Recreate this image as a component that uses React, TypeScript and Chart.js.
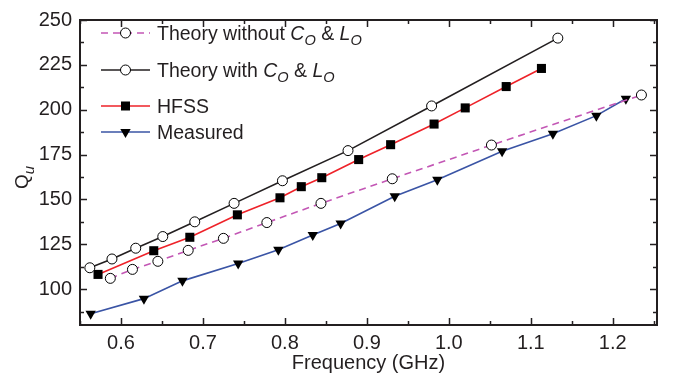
import React, { useEffect, useRef } from "react";
import { Chart, registerables } from "chart.js";

Chart.register(...registerables);

// ---------- data ----------
const theoryWithoutX = [0.587, 0.614, 0.645, 0.682, 0.725, 0.778, 0.844, 0.931, 1.052, 1.235];
const theoryWithoutY = [106.0, 111.0, 115.5, 121.6, 128.3, 137.1, 147.8, 161.5, 180.3, 208.2];

const theoryWithX = [0.562, 0.589, 0.618, 0.651, 0.69, 0.738, 0.797, 0.877, 0.979, 1.133];
const theoryWithY = [111.9, 116.8, 122.8, 129.3, 137.5, 147.8, 160.4, 177.2, 202.1, 239.9];

const hfssX = [0.572, 0.64, 0.684, 0.742, 0.794, 0.82, 0.845, 0.89, 0.929, 0.982, 1.02, 1.07, 1.113];
const hfssY = [108.2, 121.4, 128.9, 141.4, 150.9, 157.1, 162.1, 172.2, 180.5, 192.0, 201.0, 212.9, 223.0];

const measuredX = [0.563, 0.628, 0.675, 0.743, 0.792, 0.834, 0.868, 0.934, 0.986, 1.065, 1.127, 1.18, 1.216];
const measuredY = [86.3, 94.7, 104.6, 114.3, 122.0, 130.2, 136.6, 151.8, 161.0, 176.9, 186.6, 196.7, 206.1];

const xMajorTicks = [0.6, 0.7, 0.8, 0.9, 1.0, 1.1, 1.2];
const xMinorTicks = [0.55, 0.65, 0.75, 0.85, 0.95, 1.05, 1.15, 1.25];
const yMajorTicks = [100, 125, 150, 175, 200, 225, 250];
const yMinorTicks = [87.5, 112.5, 137.5, 162.5, 187.5, 212.5, 237.5];

const xTitle = "Frequency (GHz)";

type Part = { t: string; italic?: boolean; sub?: boolean };
const legendLabels: Part[][] = [
  [{ t: "Theory without " }, { t: "C", italic: true }, { t: "O", italic: true, sub: true }, { t: " & " }, { t: "L", italic: true }, { t: "O", italic: true, sub: true }],
  [{ t: "Theory with " }, { t: "C", italic: true }, { t: "O", italic: true, sub: true }, { t: " & " }, { t: "L", italic: true }, { t: "O", italic: true, sub: true }],
  [{ t: "HFSS" }],
  [{ t: "Measured" }],
];

// ---------- styles ----------
const FONT = '"Liberation Sans", Arial, Helvetica, sans-serif';
const TEXT = "#231f20";
const FRAME = "#231f20";
const PURPLE = "#c357b5";
const BLACK = "#231f20";
const RED = "#ee2229";
const BLUE = "#3a54a5";

const zip = (xs: number[], ys: number[]) => xs.map((x, i) => ({ x, y: ys[i] }));

function drawMarker(ctx: CanvasRenderingContext2D, style: string, x: number, y: number) {
  ctx.save();
  ctx.lineWidth = 1;
  ctx.strokeStyle = "#000";
  if (style === "circle") {
    ctx.fillStyle = "#fff";
    ctx.beginPath();
    ctx.arc(x, y, 5, 0, Math.PI * 2);
    ctx.fill();
    ctx.stroke();
  } else if (style === "rect") {
    ctx.fillStyle = "#000";
    ctx.fillRect(x - 4.5, y - 4.5, 9, 9);
  } else {
    const r = 6;
    ctx.fillStyle = "#000";
    ctx.beginPath();
    ctx.moveTo(x, y + r);
    ctx.lineTo(x - r * 0.866, y - r * 0.5);
    ctx.lineTo(x + r * 0.866, y - r * 0.5);
    ctx.closePath();
    ctx.fill();
  }
  ctx.restore();
}

function drawRich(ctx: CanvasRenderingContext2D, x: number, baseline: number, parts: Part[], size: number) {
  let cx = x;
  for (const p of parts) {
    const s = p.sub ? size * 0.75 : size;
    ctx.font = `${p.italic ? "italic " : ""}${s}px ${FONT}`;
    ctx.fillText(p.t, cx, baseline + (p.sub ? size * 0.28 : 0));
    cx += ctx.measureText(p.t).width;
  }
}

const legendDefs = [
  { color: PURPLE, dash: [7, 5], marker: "circle", y: 33 },
  { color: BLACK, dash: [], marker: "circle", y: 70 },
  { color: RED, dash: [], marker: "rect", y: 106 },
  { color: BLUE, dash: [], marker: "tri", y: 132 },
];

const decorPlugin = {
  id: "decor",
  afterDatasetsDraw(chart: any) {
    const { ctx, chartArea: a, scales } = chart;
    const xs = scales.x;
    const ys = scales.y;
    ctx.save();
    ctx.strokeStyle = FRAME;
    ctx.lineWidth = 1.5;
    ctx.beginPath();
    const tx = (vals: number[], len: number) => {
      for (const v of vals) {
        const px = Math.round(xs.getPixelForValue(v)) + 0.5;
        ctx.moveTo(px, a.bottom);
        ctx.lineTo(px, a.bottom - len);
        ctx.moveTo(px, a.top);
        ctx.lineTo(px, a.top + len);
      }
    };
    const ty = (vals: number[], len: number) => {
      for (const v of vals) {
        const py = Math.round(ys.getPixelForValue(v)) + 0.5;
        ctx.moveTo(a.left, py);
        ctx.lineTo(a.left + len, py);
        ctx.moveTo(a.right, py);
        ctx.lineTo(a.right - len, py);
      }
    };
    tx(xMajorTicks, 7);
    tx(xMinorTicks, 4);
    ty(yMajorTicks, 7);
    ty(yMinorTicks, 4);
    ctx.stroke();
    ctx.lineWidth = 2;
    ctx.strokeRect(a.left, a.top, a.right - a.left, a.bottom - a.top);

    // legend
    legendDefs.forEach((d, i) => {
      ctx.save();
      ctx.strokeStyle = d.color;
      ctx.lineWidth = 1.6;
      ctx.setLineDash(d.dash);
      ctx.beginPath();
      ctx.moveTo(101, d.y);
      ctx.lineTo(150, d.y);
      ctx.stroke();
      ctx.restore();
      drawMarker(ctx, d.marker, 125.5, d.y);
      ctx.fillStyle = TEXT;
      ctx.textBaseline = "alphabetic";
      ctx.textAlign = "left";
      drawRich(ctx, 157, d.y + 7, legendLabels[i], 19.5);
    });

    // y title: Q with italic subscript u
    ctx.save();
    ctx.translate(28, 189);
    ctx.rotate(-Math.PI / 2);
    ctx.fillStyle = TEXT;
    ctx.textBaseline = "alphabetic";
    ctx.textAlign = "left";
    ctx.font = `19px ${FONT}`;
    ctx.fillText("Q", 0, 0);
    const qw = ctx.measureText("Q").width;
    ctx.font = `italic 15px ${FONT}`;
    ctx.fillText("u", qw, 6);
    ctx.restore();
    ctx.restore();
  },
};

export default function App() {
  const ref = useRef<HTMLCanvasElement>(null);
  useEffect(() => {
    if (!ref.current) return;
    const common = { borderWidth: 1.6, pointBorderWidth: 1, pointBorderColor: "#000", tension: 0 };
    const chart = new Chart(ref.current, {
      type: "line",
      data: {
        datasets: [
          { ...common, label: "Theory without", data: zip(theoryWithoutX, theoryWithoutY), borderColor: PURPLE, borderDash: [7, 5], pointStyle: "circle", pointRadius: 5, pointBackgroundColor: "#fff" },
          { ...common, label: "Theory with", data: zip(theoryWithX, theoryWithY), borderColor: BLACK, pointStyle: "circle", pointRadius: 5, pointBackgroundColor: "#fff" },
          { ...common, label: "HFSS", data: zip(hfssX, hfssY), borderColor: RED, pointStyle: "rect", pointRadius: 6.4, pointBackgroundColor: "#000", pointBorderWidth: 0 },
          { ...common, label: "Measured", data: zip(measuredX, measuredY), borderColor: BLUE, pointStyle: "triangle", pointRotation: 180, pointRadius: 6, pointBackgroundColor: "#000", pointBorderWidth: 0 },
        ] as any,
      },
      options: {
        animation: false,
        responsive: true,
        maintainAspectRatio: false,
        layout: { padding: { top: 16, right: 22, left: 0, bottom: 0 } },
        plugins: { legend: { display: false }, tooltip: { enabled: false } },
        scales: {
          x: {
            type: "linear",
            min: 0.55,
            max: 1.254,
            grid: { display: false, drawTicks: false, tickLength: 0 },
            border: { display: false },
            afterBuildTicks: (s: any) => { s.ticks = xMajorTicks.map((v) => ({ value: v })); },
            afterFit: (s: any) => { s.height = 56; },
            ticks: { color: TEXT, font: { family: FONT, size: 20 }, padding: 6, maxRotation: 0, callback: (v: any) => Number(v).toFixed(1) },
            title: { display: true, text: xTitle, color: TEXT, font: { family: FONT, size: 20 }, padding: { top: 0, bottom: 6 } },
          },
          y: {
            min: 80,
            max: 250,
            grid: { display: false, drawTicks: false, tickLength: 0 },
            border: { display: false },
            afterBuildTicks: (s: any) => { s.ticks = yMajorTicks.map((v) => ({ value: v })); },
            afterFit: (s: any) => { s.width = 80; },
            ticks: { color: TEXT, font: { family: FONT, size: 20 }, padding: 8 },
          },
        },
      } as any,
      plugins: [decorPlugin],
    });
    return () => chart.destroy();
  }, []);
  return (
    <div style={{ position: "fixed", left: 0, top: 0, width: 679, height: 381, background: "#fff" }}>
      <canvas ref={ref} style={{ width: 679, height: 381 }} />
    </div>
  );
}
